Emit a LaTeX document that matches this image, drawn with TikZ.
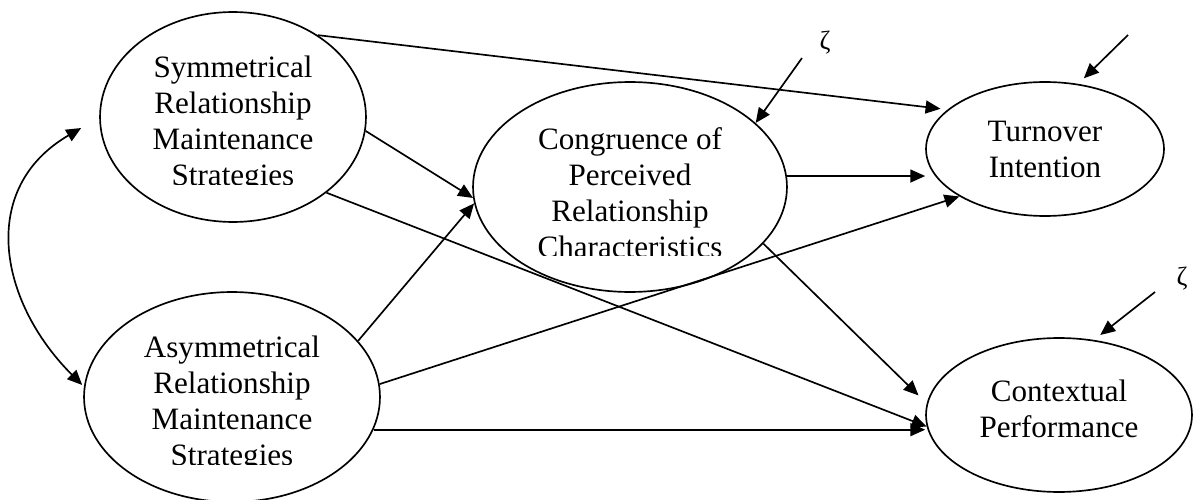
\documentclass[tikz,border=0pt]{standalone}
\usepackage{fontspec}
\setmainfont{Liberation Serif}
\usetikzlibrary{arrows.meta,shapes.geometric}

\begin{document}
\begin{tikzpicture}[x=0.02cm,y=-0.02cm,line width=0.95pt,
  >={Triangle[length=8.5pt,width=7.4pt]},
  latent/.style={draw,ellipse,inner sep=0pt},
  caption/.style={align=center,inner sep=0pt,
    font=\fontsize{17.7}{20.5}\selectfont},
  resid/.style={font=\fontsize{15}{18}\selectfont,inner sep=0pt}]
 \useasboundingbox (0,0) rectangle (1197,500);
 % latent variables
 \node[latent,minimum width=5.32cm,minimum height=4.2cm] (sym) at (233,117) {};
 \node[latent,minimum width=5.92cm,minimum height=4.2cm] (asym) at (232,397) {};
 \node[latent,minimum width=6.28cm,minimum height=4.2cm] (cong) at (630,187) {};
 \node[latent,minimum width=4.76cm,minimum height=2.68cm] (turn) at (1045,149) {};
 \node[latent,minimum width=5.32cm,minimum height=3.08cm] (ctx) at (1059,415) {};
 % labels (the last line is cut off by the text box)
 \begin{scope}
  \clip (110,0) rectangle (360,184);
  \node[caption,yshift=-0.14cm] (symtext) at (sym)
   {Symmetrical\\Relationship\\Maintenance\\Strategies};
 \end{scope}
 \begin{scope}
  \clip (100,300) rectangle (370,464);
  \node[caption,yshift=-0.14cm] (asymtext) at (asym)
   {Asymmetrical\\Relationship\\Maintenance\\Strategies};
 \end{scope}
 \begin{scope}
  \clip (490,90) rectangle (770,255);
  \node[caption,yshift=-0.12cm] (congtext) at (cong)
   {Congruence of\\Perceived\\Relationship\\Characteristics};
 \end{scope}
 \node[caption] (turntext) at (turn) {Turnover\\Intention};
 \node[caption,yshift=0.12cm] (ctxtext) at (ctx) {Contextual\\Performance};
 % disturbances
 \node[resid] (zc) at (825,43) {ζ};
 \node[resid] (zx) at (1182,279) {ζ};
 \coordinate (cres) at (802,58);
 \coordinate (tres) at (1128,35);
 \coordinate (xres) at (1155,292);
 \draw[->] (cres) -- (cong.27);
 \draw[->,shorten >=4.5pt] (tres) -- (turn.63);
 \draw[->,shorten >=4.5pt] (xres) -- (ctx.65);
 % paths
 \draw[->,shorten >=4pt] (sym.44) -- (turn.158);
 \draw[->] (sym.-6) -- (cong.184);
 \draw[->] (sym.-39) -- (ctx.185);
 \draw[->] (asym.24) -- (cong.186);
 \draw[->] (asym.5) -- (turn.209);
 \draw[->] (asym.-13) -- (asym.-13 -| ctx.west);
 \draw[->] (cong.4) -- (cong.4 -| turn.west);
 \draw[->,shorten >=6.5pt] (cong.-23) -- (ctx.175);
 % correlation
 \draw[<->] ([shift={(-18,11)}]sym.west)
  .. controls +(-103,60) and +(-84,-84) .. ([shift={(-1,-12)}]asym.west);
\end{tikzpicture}
\end{document}
